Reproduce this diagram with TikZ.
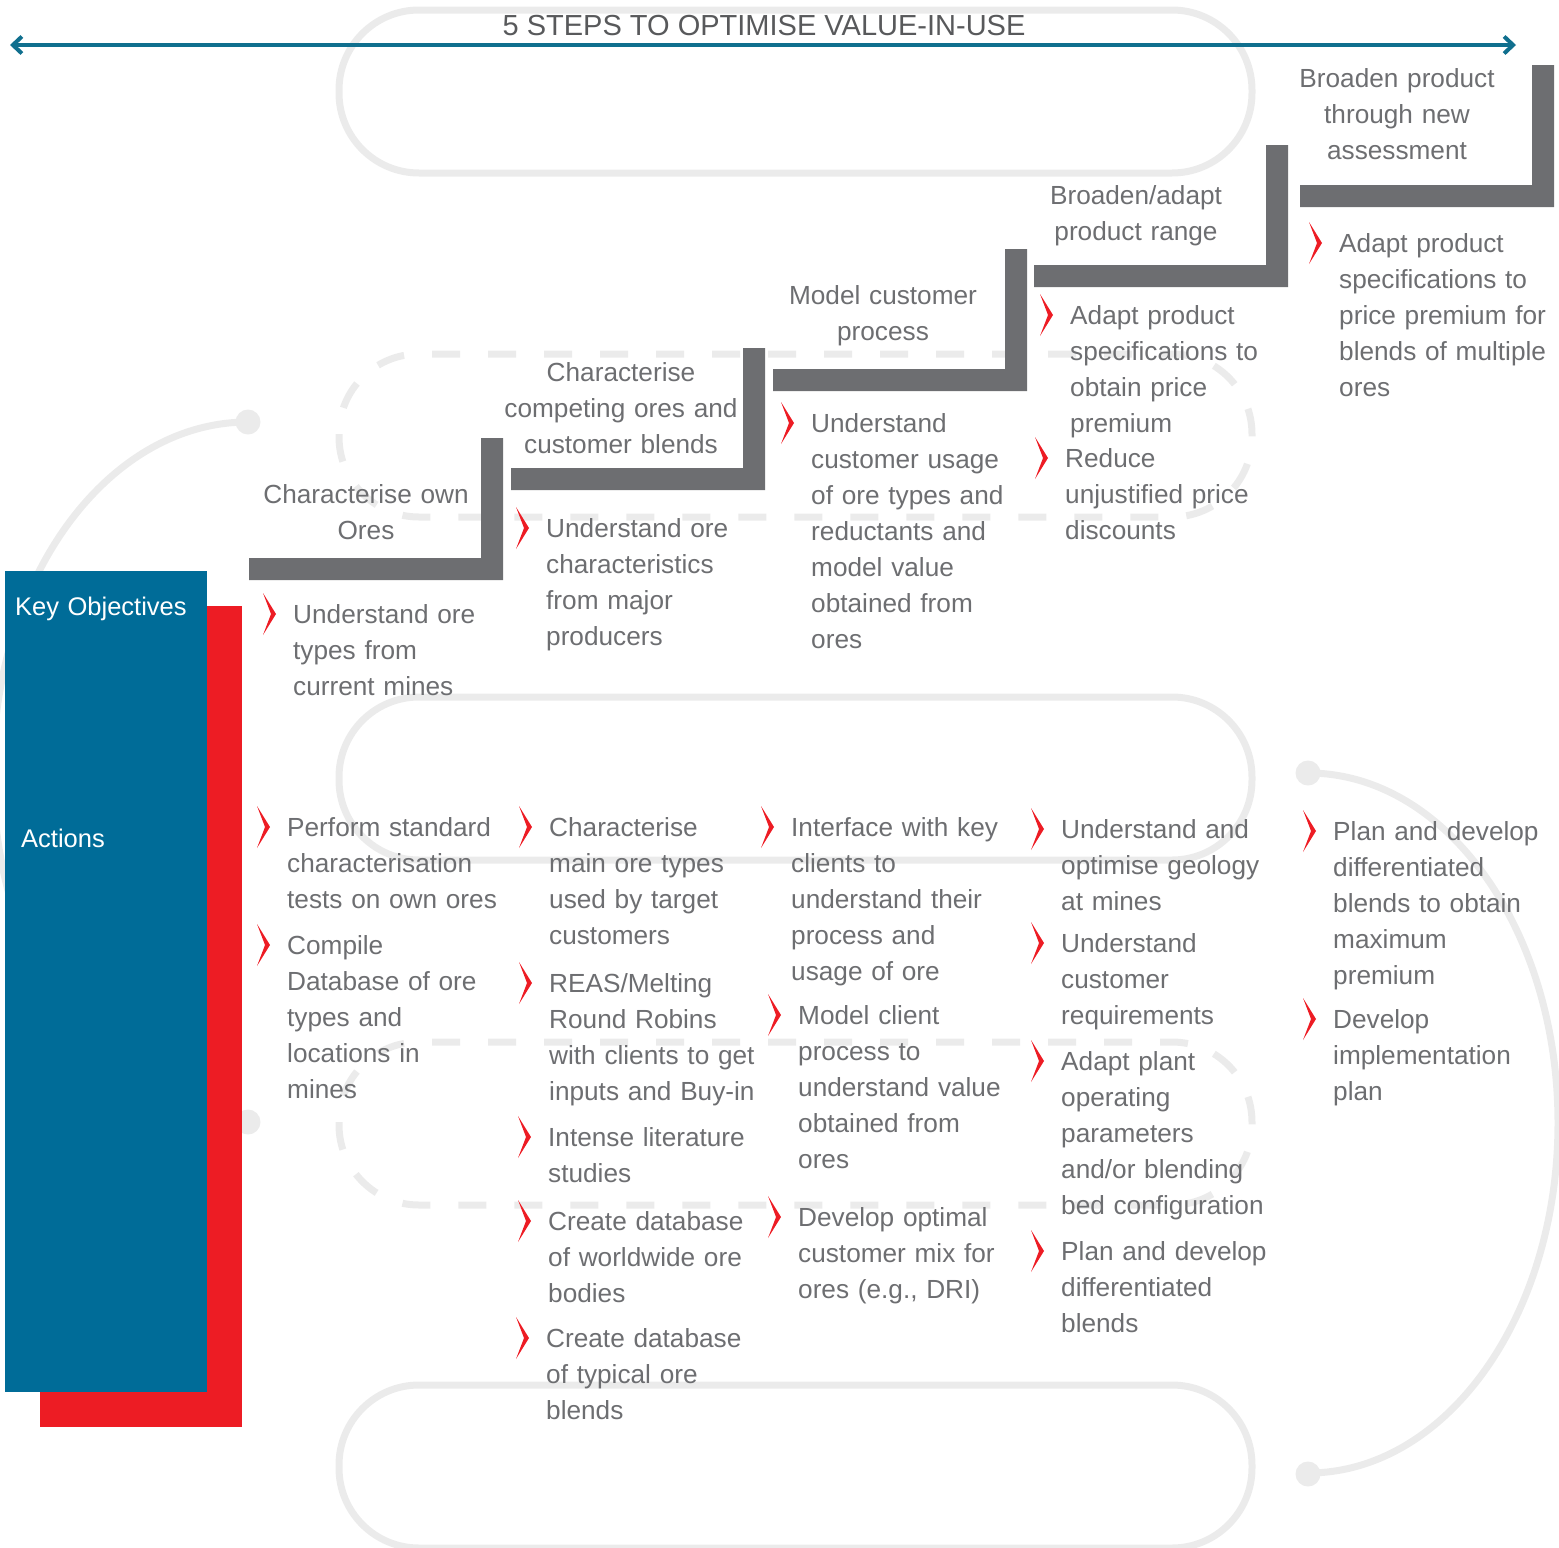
\documentclass[tikz,border=0pt]{standalone}
\usepackage{fontspec}
\setmainfont{Liberation Sans}
\usetikzlibrary{arrows.meta}

\definecolor{stepgray}{RGB}{109,110,113}
\definecolor{titlegray}{RGB}{88,89,91}
\definecolor{trackgray}{RGB}{235,235,235}
\definecolor{keyblue}{RGB}{0,108,152}
\definecolor{arrowblue}{RGB}{16,111,142}
\definecolor{bulletred}{RGB}{237,28,36}

\tikzset{
	track/.style={draw=trackgray, line width=7pt},
	dashtrack/.style={track, dash pattern=on 28pt off 28pt},
	txt/.style={text=stepgray, inner sep=0pt, text width=320pt, align=left, anchor=base west,
		font=\fontsize{26.2}{36}\selectfont},
	steptxt/.style={txt, align=center, anchor=base},
	boxtxt/.style={txt, text=white, font=\fontsize{25.5}{36}\selectfont},
	chev/.style={fill=bulletred},
}

\begin{document}
\begin{tikzpicture}[x=1pt, y=-1pt]

	\useasboundingbox (0,0) rectangle (1559,1548);

	%background track: solid and dashed loops, side arcs with end dots
	\foreach \ytop/\kind in {10/track, 354/dashtrack, 697/track, 1042/dashtrack, 1385/track}
   {
		\draw [\kind, rounded corners=80pt] (339,\ytop) rectangle (1252,\ytop+163);
   }
	\draw [track] (248,422) arc[start angle=-90, end angle=-270, x radius=255, y radius=350];
	\draw [track] (1308,773) arc[start angle=-90, end angle=90, x radius=250, y radius=350];
	\foreach \xdot/\ydot in {248/422, 248/1122, 1308/773, 1308/1474}
   {
		\fill [trackgray] (\xdot,\ydot) circle (12.5);
   }

	%title and double arrow
	\node (title) [font=\fontsize{29}{34}\selectfont, text=titlegray, inner sep=0pt, anchor=base] at (764,35) {5 STEPS TO OPTIMISE VALUE-IN-USE};
	\coordinate (arrowL) at (10,45);
	\coordinate (arrowR) at (1516,45);
	\draw [arrowblue, line width=4pt, {Straight Barb[length=9pt,width=17pt]}-{Straight Barb[length=9pt,width=17pt]}] (arrowL) -- (arrowR);

	%left boxes, red behind blue
	\fill [bulletred] (40,606) rectangle (242,1427);
	\fill [keyblue] (5,571) rectangle (207,1392);
	\node (keyobj) [boxtxt] at (15,615) {Key Objectives};
	\node (actions) [boxtxt] at (21,847) {Actions};

	%stairs: bar along the bottom, riser on the right
	\foreach \n/\xl/\yb in {1/249/580, 2/511/490, 3/773/391, 4/1034/287, 5/1300/207}
   {
		\fill [stepgray] (\xl,\yb) -- (\xl+254,\yb) -- (\xl+254,\yb-142) -- (\xl+232,\yb-142) -- (\xl+232,\yb-22) -- (\xl,\yb-22) -- cycle;
   }

	%step names
	\foreach \sname/\xpos/\ypos/\words in {
		s1/366/503/{Characterise own\\Ores},
		s2/621/381/{Characterise\\competing ores and\\customer blends},
		s3/883/304/{Model customer\\process},
		s4/1136/204/{Broaden/adapt\\product range},
		s5/1397/87/{Broaden product\\through new\\assessment}}
   {
		\node (\sname) [steptxt] at (\xpos,\ypos) {\words};
   }

	%key objectives and actions, each with a red chevron
	\foreach \bname/\xpos/\ypos/\words in {
		obj1/293/623/{Understand ore\\types from\\current mines},
		obj2/546/537/{Understand ore\\characteristics\\from major\\producers},
		obj3/811/432/{Understand\\customer usage\\of ore types and\\reductants and\\model value\\obtained from\\ores},
		obj4a/1070/324/{Adapt product\\specifications to\\obtain price\\premium},
		obj4b/1065/467/{Reduce\\unjustified price\\discounts},
		obj5/1339/252/{Adapt product\\specifications to\\price premium for\\blends of multiple\\ores},
		act1a/287/836/{Perform standard\\characterisation\\tests on own ores},
		act1b/287/954/{Compile\\Database of ore\\types and\\locations in\\mines},
		act2a/549/836/{Characterise\\main ore types\\used by target\\customers},
		act2b/549/992/{REAS/Melting\\Round Robins\\with clients to get\\inputs and Buy-in},
		act2c/548/1146/{Intense literature\\studies},
		act2d/548/1230/{Create database\\of worldwide ore\\bodies},
		act2e/546/1347/{Create database\\of typical ore\\blends},
		act3a/791/836/{Interface with key\\clients to\\understand their\\process and\\usage of ore},
		act3b/798/1024/{Model client\\process to\\understand value\\obtained from\\ores},
		act3c/798/1226/{Develop optimal\\customer mix for\\ores (e.g., DRI)},
		act4a/1061/838/{Understand and\\optimise geology\\at mines},
		act4b/1061/952/{Understand\\customer\\requirements},
		act4c/1061/1070/{Adapt plant\\operating\\parameters\\and/or blending\\bed configuration},
		act4d/1061/1260/{Plan and develop\\differentiated\\blends},
		act5a/1333/840/{Plan and develop\\differentiated\\blends to obtain\\maximum\\premium},
		act5b/1333/1028/{Develop\\implementation\\plan}}
   {
		\fill [chev] (\xpos-30,\ypos-30) -- ++(13,21) -- ++(-13,21) -- ++(8,-21) -- cycle;
		\node (\bname) [txt] at (\xpos,\ypos) {\words};
   }

\end{tikzpicture}
\end{document}
